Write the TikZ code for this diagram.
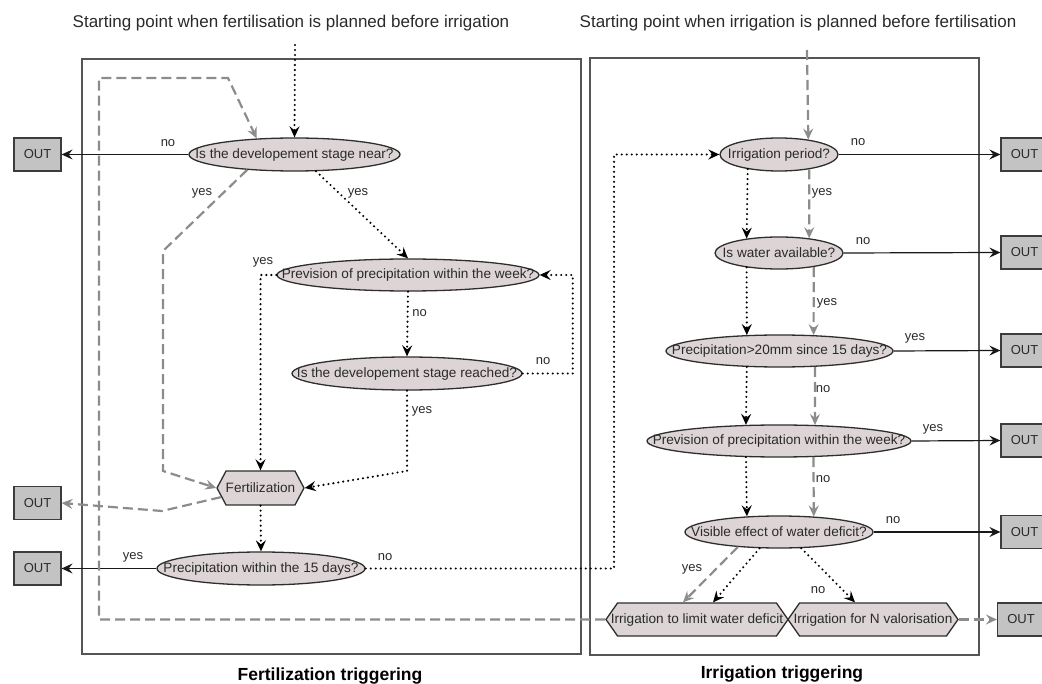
\documentclass[tikz,border=0pt]{standalone}
\usepackage{fontspec}
\setmainfont{Liberation Sans}
\usetikzlibrary{shapes.geometric,shapes.symbols,arrows.meta}
\definecolor{qfill}{HTML}{DDD5D5}
\definecolor{qdraw}{HTML}{2E2E2E}
\definecolor{outfill}{HTML}{C3C3C3}
\definecolor{outdraw}{HTML}{3C3C3C}
\definecolor{dgray}{HTML}{8C8C8C}
\definecolor{txt}{HTML}{2A2A2A}
\definecolor{framec}{HTML}{555555}
\newcommand{\zw}[1]{\makebox[0pt]{#1}}
\begin{document}
\begin{tikzpicture}[x=1pt,y=-1pt,
  qnode/.style={ellipse, draw=qdraw, fill=qfill, line width=1.3pt, inner sep=0pt,
    text=txt, font=\fontsize{13.6}{15}\selectfont},
  actnode/.style={signal, signal to=west and east, signal pointer angle=110, draw=qdraw,
    fill=qfill, line width=1.3pt, inner sep=0pt, text=txt, font=\fontsize{13.6}{15}\selectfont},
  outbox/.style={rectangle, draw=outdraw, fill=outfill, line width=1.2pt, inner sep=0pt,
    minimum width=47pt, minimum height=33pt, text=txt, font=\fontsize{13}{15}\selectfont},
  lbl/.style={text=txt, font=\fontsize{13}{15}\selectfont, inner sep=0pt},
  ttl/.style={text=txt, font=\fontsize{17}{20}\selectfont, inner sep=0pt},
  btl/.style={text=black, font=\bfseries\fontsize{17.5}{20}\selectfont, inner sep=0pt},
  frame/.style={draw=framec, line width=1.3pt},
  tip/.style={-{Stealth[length=11pt,width=10pt,inset=4pt]}},
  solidarr/.style={tip, draw=black!90, line width=1.2pt},
  dotarr/.style={tip, draw=black, line width=2.3pt, line cap=round, dash pattern=on 0pt off 5pt},
  dasharr/.style={tip, draw=dgray, line width=2.2pt, dash pattern=on 10pt off 5pt}
]
\useasboundingbox (0,0) rectangle (1042,684);
\clip (0,0) rectangle (1042,684);

% frames
\draw[frame] (82,59) rectangle (581,654);
\draw[frame] (590,58) rectangle (979,655);

% titles
\node[ttl] (t1) at (291,23) {Starting point when fertilisation is planned before irrigation};
\node[ttl] (t2) at (798,23) {Starting point when irrigation is planned before fertilisation};
\node[btl] (b1) at (330,676) {Fertilization triggering};
\node[btl] (b2) at (782,674) {Irrigation triggering};

% left nodes
\node[qnode, minimum width=211pt, minimum height=33pt] (Q1) at (294.5,154.5) {\zw{Is the developement stage near?}};
\node[qnode, minimum width=262pt, minimum height=32pt] (Q2) at (408,275) {\zw{Prevision of precipitation within the week?}};
\node[qnode, minimum width=230pt, minimum height=33pt] (Q3) at (407,373.5) {\zw{Is the developement stage reached?}};
\node[actnode, signal pointer angle=124, minimum width=87pt, minimum height=34pt] (F) at (260.5,488) {\zw{Fertilization}};
\node[qnode, minimum width=208pt, minimum height=33pt] (Q4) at (261,568.5) {\zw{Precipitation within the 15 days?}};
\node[outbox] (O1) at (37.5,154.5) {OUT};
\node[outbox] (O2) at (37.5,503) {OUT};
\node[outbox] (O3) at (37.5,568.5) {OUT};

% right nodes
\node[qnode, minimum width=118pt, minimum height=33pt] (R1) at (779,154.5) {\zw{Irrigation period?}};
\node[qnode, minimum width=128pt, minimum height=32pt] (R2) at (779,253) {\zw{Is water available?}};
\node[qnode, minimum width=227pt, minimum height=32pt] (R3) at (779.5,351) {\zw{Precipitation>20mm since 15 days?}};
\node[qnode, minimum width=264pt, minimum height=32pt] (R4) at (779,441) {\zw{Prevision of precipitation within the week?}};
\node[qnode, minimum width=188pt, minimum height=32pt] (R5) at (779,532) {\zw{Visible effect of water deficit?}};
\node[actnode, minimum width=182pt, minimum height=33pt] (H1) at (697,619.5) {\zw{Irrigation to limit water deficit}};
\node[actnode, minimum width=170pt, minimum height=33pt] (H2) at (873,619.5) {\zw{Irrigation for N valorisation}};
\node[outbox] (O4) at (1024.5,154.5) {OUT};
\node[outbox] (O5) at (1024.5,252.5) {OUT};
\node[outbox] (O6) at (1024.5,350.5) {OUT};
\node[outbox] (O7) at (1024.5,440.5) {OUT};
\node[outbox] (O8) at (1024.5,532) {OUT};
\node[outbox] (O9) at (1021,619.5) {OUT};

% helper coordinates
\coordinate (sL) at (295,45);
\coordinate (sR) at (807,50);
\coordinate (dA) at (163,251);
\coordinate (dB) at (163,471);
\coordinate (pA) at (407,471);
\coordinate (fA) at (162,511);
\coordinate (lpA) at (99,619.5);
\coordinate (lpB) at (99,78);
\coordinate (lpC) at (228,78);
\coordinate (rl) at (614,154.5);

% ---- left panel connectors
\draw[dotarr] (sL) -- (Q1.north);
\draw[solidarr] (Q1.west) -- (O1.east);
\draw[dasharr] (Q1.-162.3) -- (dA) -- (dB) -- (F.west);
\draw[dotarr] (Q1.-38.3) -- (Q2.north);
\draw[dotarr] (Q2.west) -| (F.north);
\draw[dotarr] (Q2.south) -- (Q3.north);
\draw[dotarr] (Q3.east) -- ++(50,0) |- (Q2.east);
\draw[dotarr] (Q3.south) -- (pA) -- (F.east);
\draw[dasharr] (F.-167) -- (fA) -- (O2.east);
\draw[dotarr] (F.south) -- (Q4.north);
\draw[solidarr] (Q4.west) -- (O3.east);
\draw[dotarr] (Q4.east) -| (rl) -- (R1.west);
\draw[dasharr] (H1.west) -- (lpA) -- (lpB) -- (lpC) -- (Q1.157);

% ---- right panel connectors
\draw[dasharr] (sR) -- (R1.27.4);
\draw[solidarr] (R1.east) -- (O4.west);
\draw[dotarr] (R1.-155.6) -- (R2.156.6);
\draw[dasharr] (R1.-26.4) -- (R2.26.2);
\draw[solidarr] (R2.east) -- (O5.west);
\draw[dotarr] (R2.-156.6) -- (R3.154.75);
\draw[dasharr] (R2.-22.6) -- (R3.25.25);
\draw[solidarr] (R3.east) -- (O6.west);
\draw[dotarr] (R3.-154.75) -- (R4.154.1);
\draw[dasharr] (R3.-24.5) -- (R4.24.45);
\draw[solidarr] (R4.east) -- (O7.west);
\draw[dotarr] (R4.-154.1) -- (R5.154.8);
\draw[dasharr] (R4.-25.1) -- (R5.24.4);
\draw[solidarr] (R5.east) -- (O8.west);
\draw[dasharr] (R5.-160.6) -- (H1.north -| 683,0);
\draw[dotarr] (R5.-140.5) -- (H1.north -| 713,0);
\draw[dotarr] (R5.-36.6) -- (H2.north -| 855,0);
\draw[dasharr] (H2.east) -- (O9.west);

% ---- labels
\node[lbl] (l1) at (168,143) {no};
\node[lbl] (l2) at (202,193) {yes};
\node[lbl] (l3) at (358,193) {yes};
\node[lbl] (l4) at (263,262) {yes};
\node[lbl] (l5) at (419.5,313) {no};
\node[lbl] (l6) at (543,361) {no};
\node[lbl] (l7) at (422,411) {yes};
\node[lbl] (l8) at (133,557) {yes};
\node[lbl] (l9) at (385,557) {no};
\node[lbl] (r1) at (858,142) {no};
\node[lbl] (r2) at (822,193) {yes};
\node[lbl] (r3) at (863,241) {no};
\node[lbl] (r4) at (827,303) {yes};
\node[lbl] (r5) at (915,338) {yes};
\node[lbl] (r6) at (823,389) {no};
\node[lbl] (r7) at (933,429) {yes};
\node[lbl] (r8) at (823,479) {no};
\node[lbl] (r9) at (893,520) {no};
\node[lbl] (r10) at (692,569) {yes};
\node[lbl] (r11) at (818,590) {no};
\end{tikzpicture}
\end{document}
